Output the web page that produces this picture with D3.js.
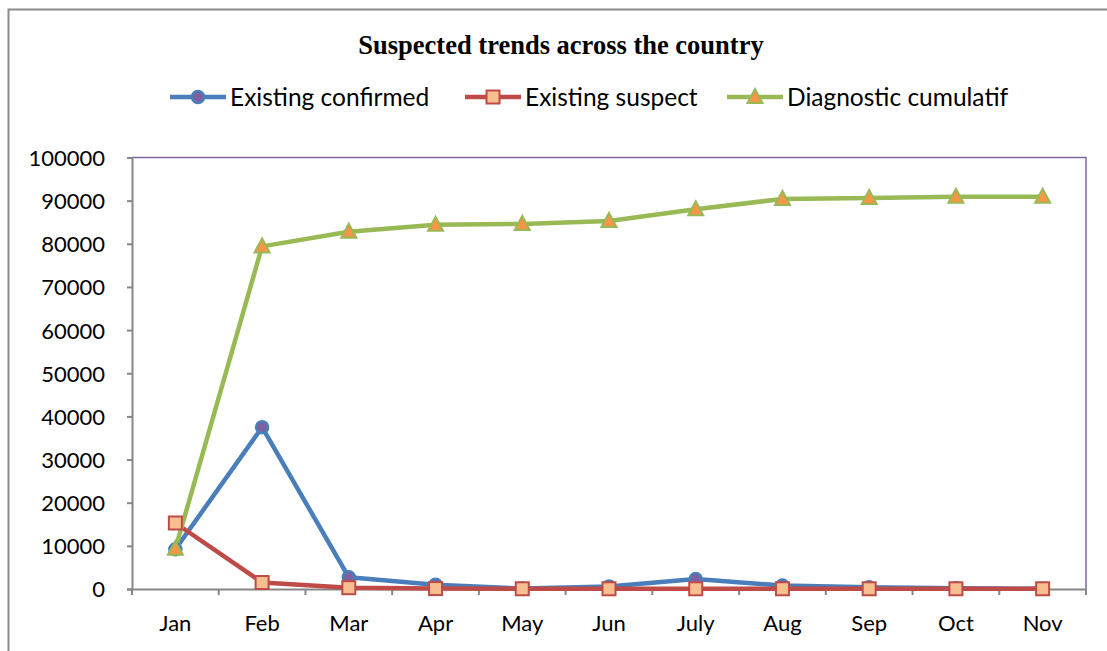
<!DOCTYPE html>
<html>
<head>
<meta charset="utf-8">
<script src="https://cdn.jsdelivr.net/npm/d3@7"></script>
<style>
  body { margin: 0; background: #fff; }
  svg { display: block; }
</style>
</head>
<body>
<div id="chart"></div>
<script>
// chart values
const months = ["Jan", "Feb", "Mar", "Apr", "May", "Jun", "July", "Aug", "Sep", "Oct", "Nov"];
const existingConfirmed = [9200, 37500, 2700, 1000, 100, 600, 2300, 800, 400, 150, 50];
const existingSuspect = [15300, 1500, 300, 100, 50, 50, 50, 50, 50, 50, 50];
const diagnosticCumulatif = [9300, 79400, 82800, 84400, 84600, 85300, 88000, 90400, 90600, 90900, 90900];
const yTicks = [0, 10000, 20000, 30000, 40000, 50000, 60000, 70000, 80000, 90000, 100000];

const width = 1107, height = 651;
const margin = {top: 157.5, right: 21, bottom: 62, left: 132};

const svg = d3.select("#chart").append("svg")
    .attr("width", width)
    .attr("height", height);

// outer chart border (top & left visible)
svg.append("path")
    .attr("d", "M8.5,651 L8.5,9.5 L1107,9.5")
    .attr("fill", "none")
    .attr("stroke", "#8a8a8a")
    .attr("stroke-width", 2);

const x = d3.scaleBand()
    .domain(months)
    .range([margin.left, width - margin.right]);

const y = d3.scaleLinear()
    .domain([0, 100000])
    .range([height - margin.bottom, margin.top]);

// plot area frame (purple top + right)
svg.append("path")
    .attr("d", `M${margin.left},${margin.top} L${width - margin.right},${margin.top} L${width - margin.right},${height - margin.bottom}`)
    .attr("fill", "none")
    .attr("stroke", "#8064a2")
    .attr("stroke-width", 1.5);

// y axis
const yAxis = svg.append("g")
    .attr("transform", `translate(${margin.left},0)`)
    .call(d3.axisLeft(y).tickValues(yTicks).tickSize(5).tickPadding(22).tickFormat(d3.format("d")));

// x axis: ticks at band edges
const xAxis = svg.append("g")
    .attr("transform", `translate(0,${height - margin.bottom})`)
    .call(d3.axisBottom(x).tickSize(0).tickPadding(26));

const edges = months.map(m => x(m)).concat([width - margin.right]);
xAxis.selectAll(".edge-tick")
    .data(edges)
    .enter().append("line")
    .attr("class", "edge-tick")
    .attr("x1", d => d).attr("x2", d => d)
    .attr("y1", 0).attr("y2", 6);

[yAxis, xAxis].forEach(function(ax) {
    ax.select(".domain").attr("stroke", "#868686").attr("stroke-width", 2);
    ax.selectAll("line").attr("stroke", "#868686").attr("stroke-width", 2);
    ax.selectAll("text")
        .attr("fill", "#000")
        .style("font-family", "Lato, 'Open Sans', sans-serif")
        .style("font-size", "22px");
});
yAxis.selectAll("text").attr("dy", "0.36em");
xAxis.selectAll("text").attr("dy", "0.71em");

const series = [
    {name: "Existing confirmed", values: existingConfirmed, color: "#4a7ebb", marker: "circle"},
    {name: "Existing suspect", values: existingSuspect, color: "#be4b48", marker: "square"},
    {name: "Diagnostic cumulatif", values: diagnosticCumulatif, color: "#98b954", marker: "triangle"}
];

const line = d3.line()
    .x((d, i) => x(months[i]) + x.bandwidth() / 2)
    .y(d => y(d));

function drawMarker(g, type, color) {
    if (type === "circle") {
        g.append("circle").attr("r", 6)
            .attr("fill", "#7d60a0").attr("stroke", color).attr("stroke-width", 2.5);
    } else if (type === "square") {
        g.append("rect").attr("x", -6.5).attr("y", -6.5).attr("width", 13).attr("height", 13)
            .attr("fill", "#f9be8f").attr("stroke", color).attr("stroke-width", 2);
    } else {
        g.append("path").attr("d", "M0,-8 L7.5,6 L-7.5,6 Z")
            .attr("fill", "#f79646").attr("stroke", color).attr("stroke-width", 2);
    }
}

series.forEach(function(s) {
    svg.append("path")
        .datum(s.values)
        .attr("d", line)
        .attr("fill", "none")
        .attr("stroke", s.color)
        .attr("stroke-width", 4.5)
        .attr("stroke-linejoin", "round");
});

series.forEach(function(s) {
    s.values.forEach(function(v, i) {
        const g = svg.append("g")
            .attr("transform", `translate(${x(months[i]) + x.bandwidth() / 2},${y(v)})`);
        drawMarker(g, s.marker, s.color);
    });
});

// title
svg.append("text")
    .attr("x", 561)
    .attr("y", 54)
    .attr("text-anchor", "middle")
    .style("font-family", "'Liberation Serif', 'Times New Roman', serif")
    .style("font-weight", "bold")
    .style("font-size", "26.5px")
    .text("Suspected trends across the country");

// legend
const legendX = [170, 465, 727];
const legend = svg.append("g").attr("transform", "translate(0,97)");
series.forEach(function(s, i) {
    const g = legend.append("g").attr("transform", `translate(${legendX[i]},0)`);
    g.append("line").attr("x1", 0).attr("x2", 56)
        .attr("stroke", s.color).attr("stroke-width", 4.5);
    drawMarker(g.append("g").attr("transform", "translate(28,0)"), s.marker, s.color);
    g.append("text")
        .attr("x", 60)
        .attr("dy", "0.35em")
        .style("font-family", "Lato, 'Open Sans', sans-serif")
        .style("font-size", "24.5px")
        .text(s.name);
});
</script>
</body>
</html>
